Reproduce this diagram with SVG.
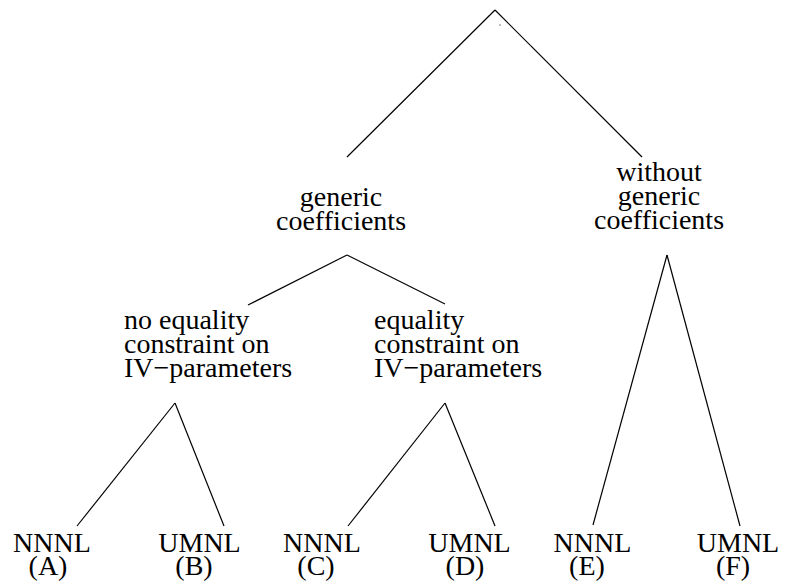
<svg xmlns="http://www.w3.org/2000/svg" width="785" height="581" viewBox="0 0 785 581">
<style>
text{font-family:'Times New Roman','Liberation Serif',Times,'Nimbus Roman','Nimbus Roman No9 L',FreeSerif,Tinos,'DejaVu Serif',serif;font-size:28px;fill:#000}
.c{text-anchor:middle}
.e line{stroke:#000;stroke-width:1.2;fill:none}
</style>
<rect width="785" height="581" fill="#fff"/>
<g id="root"><rect x="499.5" y="24.5" width="1" height="1" fill="#000"/></g>
<g class="e" id="connectors">
<line x1="495" y1="10" x2="347" y2="157"/>
<line x1="495" y1="10" x2="642" y2="157"/>
<line x1="347" y1="255" x2="248" y2="305"/>
<line x1="347" y1="255" x2="445" y2="304"/>
<line x1="667" y1="255" x2="593" y2="525"/>
<line x1="667" y1="255" x2="740" y2="526"/>
<line x1="175" y1="403" x2="77" y2="526"/>
<line x1="175" y1="403" x2="224" y2="526"/>
<line x1="445" y1="403" x2="348" y2="526"/>
<line x1="445" y1="403" x2="495" y2="526"/>
</g>
<g id="generic"><text class="c" x="341" y="206">generic</text><text class="c" x="341" y="230">coefficients</text></g>
<g id="without"><text class="c" x="659" y="181">without</text><text class="c" x="659" y="205">generic</text><text class="c" x="659" y="229">coefficients</text></g>
<g id="noeq"><text x="124" y="329">no equality</text><text x="124" y="353">constraint on</text><text x="124" y="377">IV−parameters</text></g>
<g id="eq"><text x="374" y="329">equality</text><text x="374" y="353">constraint on</text><text x="374" y="377">IV−parameters</text></g>
<g id="A"><text class="c" x="52" y="552">NNNL</text><text class="c" x="48" y="575">(A)</text></g>
<g id="B"><text class="c" x="199.5" y="552">UMNL</text><text class="c" x="194" y="575">(B)</text></g>
<g id="C"><text class="c" x="322" y="552">NNNL</text><text class="c" x="316" y="575">(C)</text></g>
<g id="D"><text class="c" x="469.5" y="552">UMNL</text><text class="c" x="465" y="575">(D)</text></g>
<g id="E"><text class="c" x="592.5" y="552">NNNL</text><text class="c" x="587" y="575">(E)</text></g>
<g id="F"><text class="c" x="738" y="552">UMNL</text><text class="c" x="733" y="575">(F)</text></g>
</svg>
